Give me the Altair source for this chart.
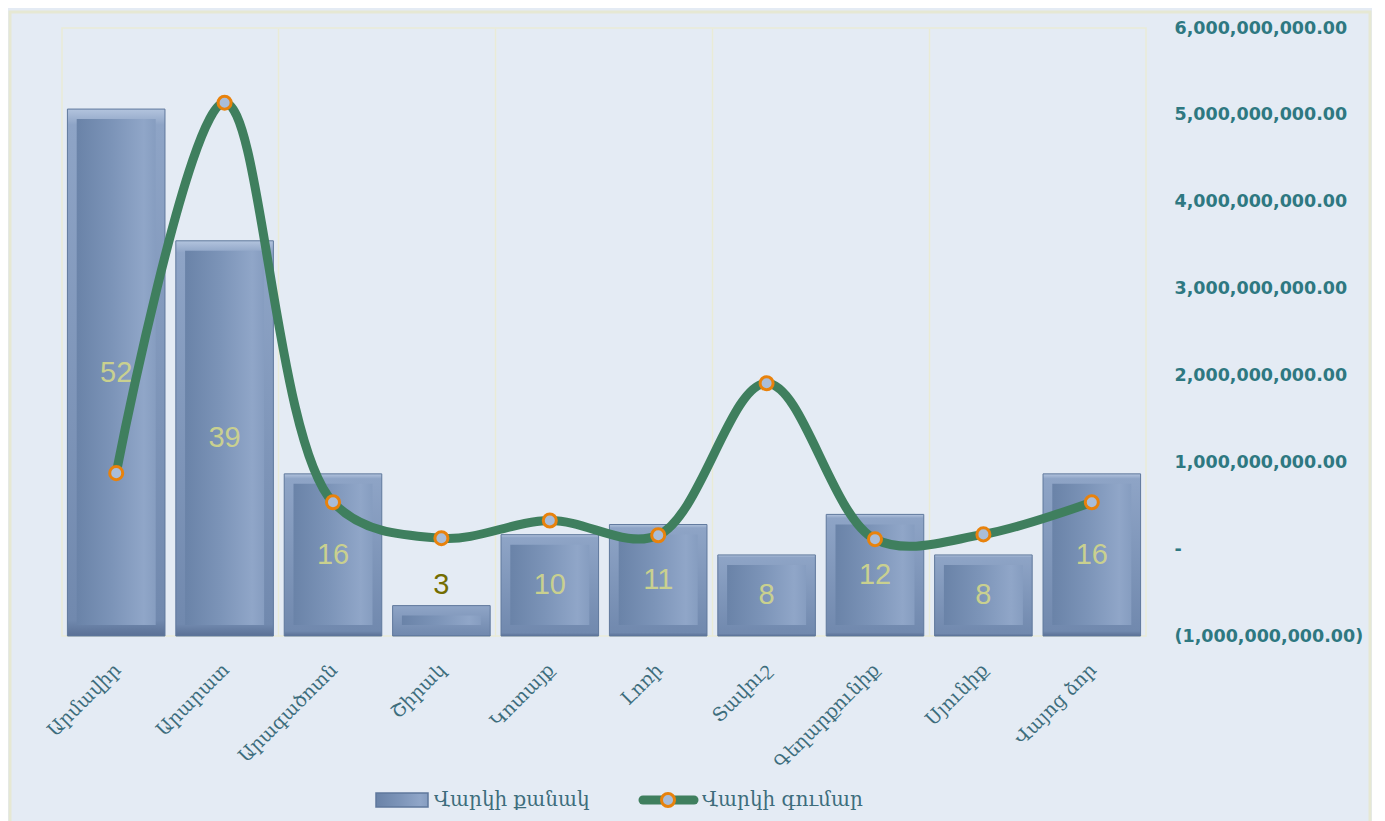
import altair as alt
import pandas as pd

regions = ["Արմավիր", "Արարատ", "Արագածոտն", "Շիրակ", "Կոտայք", "Լոռի", "Տավուշ", "Գեղարքունիք", "Սյունիք", "Վայոց ձոր"]
loan_count = [52, 39, 16, 3, 10, 11, 8, 12, 8, 16]
loan_amount = [0.875e9, 5.14e9, 0.54e9, 0.126e9, 0.33e9, 0.16e9, 1.91e9, 0.115e9, 0.17e9, 0.54e9]
legend_labels = ["Վարկի քանակ", "Վարկի գումար"]
amount_ticks = [-1e9, 0, 1e9, 2e9, 3e9, 4e9, 5e9, 6e9]
count_ticks = [0, 10, 20, 30, 40, 50, 60]
grid_regions = ["Արագածոտն", "Կոտայք", "Տավուշ", "Սյունիք"]

df = pd.DataFrame({"region": regions, "count": loan_count, "amount": loan_amount})

W, H = 1084, 608
BG = "#e4ebf4"
GRID = "#e9ebd6"
LINE_GREEN = "#3f7f5e"
ORANGE = "#e8820c"
DOT_FILL = "#a9bdd9"

grid_test = "indexof([" + ",".join("'" + r + "'" for r in grid_regions) + "], datum.value) >= 0"

x_enc = alt.X(
    "region:N", sort=regions, title=None,
    scale=alt.Scale(paddingInner=0.1, paddingOuter=0.05),
    axis=alt.Axis(
        labelAngle=-45, labelFont="DejaVu Serif", labelFontSize=19, labelColor="#3d6d7c",
        ticks=False, domain=False, labelPadding=24, labelOffset=-5,
        bandPosition=-0.0556,
        grid=True, gridColor=GRID, gridWidth=1.5,
        gridOpacity={"condition": {"test": grid_test, "value": 1}, "value": 0},
    ),
)
cscale = alt.Scale(domain=[0, 60], nice=False)
y_count = alt.Y(
    "count:Q", title=None, scale=cscale,
    axis=alt.Axis(values=count_ticks, labels=False, ticks=False, domain=False, grid=True,
                  gridColor=GRID, gridWidth=1.5, orient="left"),
)

base = alt.Chart(df)

outer_grad = alt.LinearGradient(
    gradient="linear", x1=0, x2=0, y1=0, y2=1,
    stops=[alt.GradientStop(color="#b3c4de", offset=0),
           alt.GradientStop(color="#8ea4c6", offset=0.03),
           alt.GradientStop(color="#7189ae", offset=0.97),
           alt.GradientStop(color="#5a7095", offset=1)],
)
inner_grad = alt.LinearGradient(
    gradient="linear", x1=0, x2=1, y1=0, y2=0,
    stops=[alt.GradientStop(color="#6a83a8", offset=0),
           alt.GradientStop(color="#7c94b8", offset=0.45),
           alt.GradientStop(color="#90a6c8", offset=0.85),
           alt.GradientStop(color="#869dc0", offset=1)],
)

bars_outer = base.mark_bar(color=outer_grad, stroke="#5f789c", strokeWidth=1).encode(x=x_enc, y=y_count)
bars_inner = base.transform_calculate(zero="0").mark_bar(
    color=inner_grad, size=79, yOffset=10, y2Offset=-11
).encode(x=x_enc, y=y_count, y2=alt.Y2("zero:Q"))

y_mid = alt.Y("mid:Q", title=None, scale=cscale, axis=None)
text_in = base.transform_filter("datum.count >= 5").transform_calculate(mid="datum.count / 2").mark_text(
    font="Liberation Sans", fontSize=29, color="#c9d08f", baseline="middle"
).encode(x=x_enc, y=y_mid, text="count:Q")
text_out = base.transform_filter("datum.count < 5").mark_text(
    font="Liberation Sans", fontSize=29, color="#736d00", baseline="bottom", dy=-6
).encode(x=x_enc, y=alt.Y("count:Q", title=None, scale=cscale, axis=None), text="count:Q")

# frame and legend (decorations)
one = pd.DataFrame({"k": [0]})
frame = alt.Chart(one).mark_rect(fillOpacity=0, stroke="#e6e8d3", strokeWidth=3).encode(
    x=alt.value(-52), x2=alt.value(W + 224), y=alt.value(-16), y2=alt.value(H + 210)
)
leg_df1 = pd.DataFrame({"label": [legend_labels[0]]})
leg_df2 = pd.DataFrame({"label": [legend_labels[1]]})
leg_bar = alt.Chart(leg_df1).mark_rect(color=inner_grad, stroke="#5f789c", strokeWidth=1.5).encode(
    x=alt.value(314), x2=alt.value(366), y=alt.value(H + 157), y2=alt.value(H + 171)
)
leg_text1 = alt.Chart(leg_df1).mark_text(font="DejaVu Serif", fontSize=20, color="#3d6d7c", align="left", baseline="middle").encode(
    x=alt.value(372), y=alt.value(H + 164), text="label:N"
)
leg_line = alt.Chart(leg_df2).mark_rule(color=LINE_GREEN, strokeWidth=9, strokeCap="round").encode(
    x=alt.value(581), x2=alt.value(632), y=alt.value(H + 164)
)
leg_dot = alt.Chart(leg_df2).mark_point(shape="circle", filled=True, size=170, fill=DOT_FILL, stroke=ORANGE, strokeWidth=3, opacity=1).encode(
    x=alt.value(606), y=alt.value(H + 164)
)
leg_text2 = alt.Chart(leg_df2).mark_text(font="DejaVu Serif", fontSize=20, color="#3d6d7c", align="left", baseline="middle").encode(
    x=alt.value(640), y=alt.value(H + 164), text="label:N"
)

count_layer = alt.layer(frame, bars_outer, bars_inner, text_in, text_out,
                        leg_bar, leg_text1, leg_line, leg_dot, leg_text2)

y_amount = alt.Y(
    "amount:Q", title=None,
    scale=alt.Scale(domain=[-1e9, 6e9], nice=False),
    axis=alt.Axis(
        orient="right", values=amount_ticks, grid=False, ticks=False, domain=False,
        labelFont="DejaVu Sans", labelFontWeight="bold", labelFontSize=17.5, labelColor="#2e7881",
        labelPadding=28, labelAlign="left", labelLimit=400,
        labelExpr="datum.value == 0 ? '-' : (datum.value < 0 ? '(' + format(-datum.value, ',.2f') + ')' : format(datum.value, ',.2f'))",
    ),
)
line = base.mark_line(interpolate="catmull-rom", strokeWidth=9, color=LINE_GREEN, strokeCap="round").encode(x=x_enc, y=y_amount)
points = base.mark_point(shape="circle", filled=True, size=170, fill=DOT_FILL, stroke=ORANGE, strokeWidth=3, opacity=1).encode(x=x_enc, y=y_amount)
amount_layer = alt.layer(line, points)

chart = alt.layer(count_layer, amount_layer).resolve_scale(y="independent").properties(
    width=W, height=H, background=BG,
    padding={"left": 0, "top": 2, "right": 0, "bottom": 0},
).configure_view(stroke=GRID, strokeWidth=1.5)

chart.save("out.html", embed_options={"renderer": "svg", "actions": False})
